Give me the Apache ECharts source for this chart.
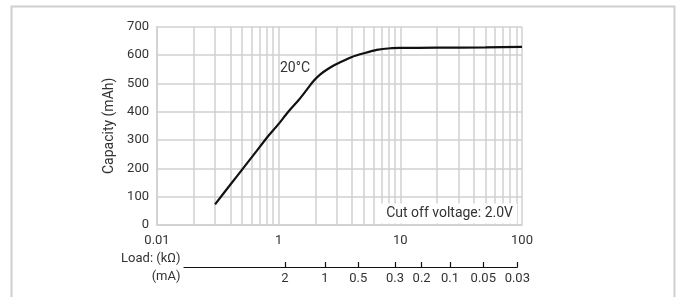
<!DOCTYPE html>
<html>
<head>
<meta charset="utf-8">
<script src="https://cdn.jsdelivr.net/npm/echarts@6/dist/echarts.min.js"></script>
<style>html,body{margin:0;padding:0;background:#fff}#c{width:683px;height:297px}</style>
</head>
<body>
<div id="c"></div>
<script>
// ---- data ----
const loadKOhm = [0.3, 0.4, 0.525, 0.65, 0.8, 1.0, 1.2, 1.46, 1.7, 1.95, 2.2, 2.5, 2.83, 3.15, 4.04, 5.0, 6.4, 8.3, 10, 20, 50, 100];
const capacityMAh = [73, 142, 207, 258, 308, 357, 400, 441, 477, 510, 532, 549, 563, 573, 594, 606, 618, 624, 625, 626, 627, 629];
const xTickValues = [0.1, 1, 10, 100];
const xTickLabels = ['0.01', '1', '10', '100'];
const minorGridValues = [0.2,0.3,0.4,0.5,0.6,0.7,0.8,0.9, 2,3,4,5,6,7,8,9, 20,30,40,50,60,70,80,90];
const mATickLabels = ['2', '1', '0.5', '0.3', '0.2', '0.1', '0.05', '0.03'];
const mATickLoad = [1.135, 2.42, 4.55, 9.12, 15.1, 25.8, 48.5, 92.4];
const yTicks = [0, 100, 200, 300, 400, 500, 600, 700];

const FONT = 'Roboto';
const TXT = '#333';
const GRIDC = '#d0d0d0';

const chart = echarts.init(document.getElementById('c'), null, {renderer: 'canvas'});
chart.setOption({
  animation: false,
  textStyle: {fontFamily: FONT},
  grid: [
    {left: 157, right: 161, top: 26.7, bottom: 72},
    {left: 184, right: 165.7, top: 266, height: 1}
  ],
  xAxis: [
    {
      type: 'log', gridIndex: 0, min: xTickValues[0], max: xTickValues[xTickValues.length - 1], logBase: 10,
      axisLine: {show: true, lineStyle: {color: GRIDC, width: 1.5}},
      axisTick: {show: false},
      splitLine: {show: true, lineStyle: {color: GRIDC, width: 1.5}},
      minorTick: {show: false}, minorSplitLine: {show: false},
      axisLabel: {
        color: TXT, fontSize: 13, margin: 9, fontFamily: FONT,
        formatter: function (v) {
          for (let i = 0; i < xTickValues.length; i++) {
            if (Math.abs(Math.log10(v) - Math.log10(xTickValues[i])) < 1e-6) return xTickLabels[i];
          }
          return '';
        }
      }
    },
    {
      type: 'log', gridIndex: 1, min: 0.1677, max: mATickLoad[mATickLoad.length - 1], logBase: 10,
      position: 'bottom',
      axisLine: {show: true, lineStyle: {color: '#111', width: 1.2}},
      axisTick: {show: true, inside: true, length: 5, lineStyle: {color: '#111', width: 1.2}, customValues: mATickLoad},
      splitLine: {show: false},
      axisLabel: {
        color: TXT, fontSize: 13, margin: 5, fontFamily: FONT,
        customValues: mATickLoad,
        formatter: function (v) {
          let best = 0, bd = 1e9;
          for (let i = 0; i < mATickLoad.length; i++) {
            const d = Math.abs(Math.log10(v) - Math.log10(mATickLoad[i]));
            if (d < bd) { bd = d; best = i; }
          }
          return mATickLabels[best];
        }
      }
    }
  ],
  yAxis: [
    {
      type: 'value', gridIndex: 0, min: yTicks[0], max: yTicks[yTicks.length - 1], interval: 100,
      name: 'Capacity (mAh)', nameLocation: 'middle', nameGap: 39, nameRotate: 90,
      nameTextStyle: {color: TXT, fontSize: 14, fontFamily: FONT},
      axisLine: {show: true, lineStyle: {color: GRIDC, width: 1.5}},
      axisTick: {show: false},
      splitLine: {show: true, lineStyle: {color: GRIDC, width: 1.5}},
      axisLabel: {color: TXT, fontSize: 13, margin: 8, fontFamily: FONT}
    },
    {type: 'value', gridIndex: 1, show: false, min: 0, max: 1}
  ],
  series: [
    {
      type: 'line', xAxisIndex: 0, yAxisIndex: 0, data: [], z: 1, silent: true,
      markLine: {
        silent: true, symbol: ['none', 'none'], label: {show: false},
        lineStyle: {color: GRIDC, width: 1.5, type: 'solid'},
        data: minorGridValues.map(v => ({xAxis: v}))
      }
    },
    {
      type: 'line', xAxisIndex: 0, yAxisIndex: 0,
      data: loadKOhm.map((x, i) => [x, capacityMAh[i]]),
      showSymbol: false, smooth: 0.25,
      lineStyle: {color: '#111', width: 2.2},
      z: 10
    }
  ],
  graphic: [
    {type: 'polyline', silent: true, shape: {points: [[11.5, 297], [11.5, 6.5], [674.5, 6.5], [674.5, 297]]},
     style: {stroke: '#cfcfcf', lineWidth: 2, fill: null}},
    {type: 'text', x: 280, y: 68.5, z: 20, style: {text: '20°C', font: '14px Roboto', fill: TXT, textAlign: 'left', textVerticalAlign: 'middle'}},
    {type: 'text', x: 517, y: 213.5, z: 20, style: {text: 'Cut off voltage: 2.0V', font: '14px Roboto', fill: TXT, textAlign: 'right', textVerticalAlign: 'middle',
      backgroundColor: '#fff', padding: [3, 4, 3, 6]}},
    {type: 'text', x: 180.5, y: 258.5, style: {text: 'Load: (kΩ)', font: '13px Roboto', fill: TXT, textAlign: 'right', textVerticalAlign: 'middle'}},
    {type: 'text', x: 180.5, y: 276.5, style: {text: '(mA)', font: '13px Roboto', fill: TXT, textAlign: 'right', textVerticalAlign: 'middle'}}
  ]
});
</script>
</body>
</html>
